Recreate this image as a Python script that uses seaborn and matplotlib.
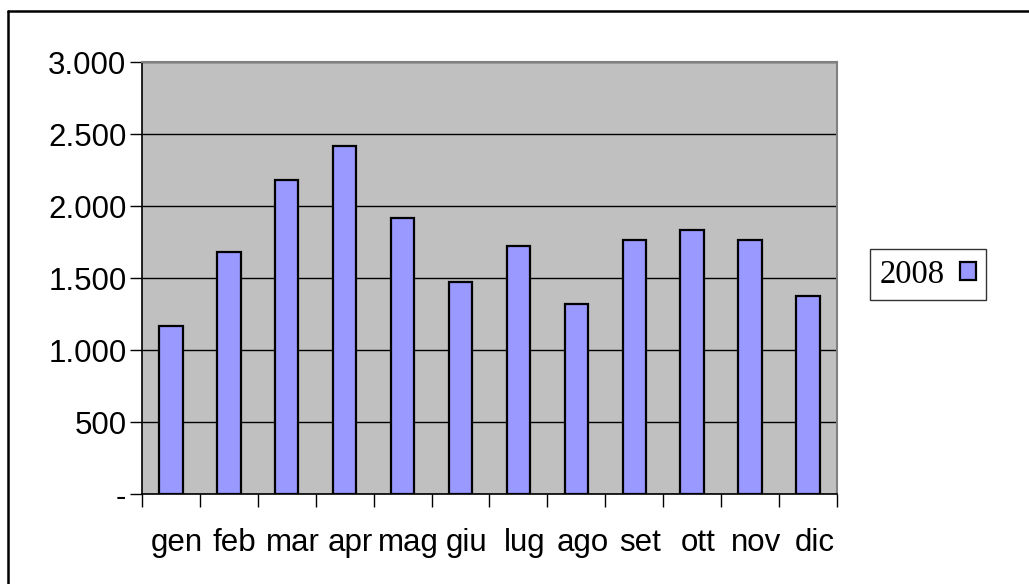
import matplotlib
matplotlib.use("Agg")
import matplotlib.pyplot as plt
from matplotlib.lines import Line2D
from matplotlib.ticker import FixedLocator, FuncFormatter
from matplotlib.transforms import ScaledTranslation
import seaborn as sns
import pandas as pd

# Monthly totals for 2008
months = ["gen", "feb", "mar", "apr", "mag", "giu",
          "lug", "ago", "set", "ott", "nov", "dic"]
values_2008 = [1169, 1680, 2183, 2419, 1917, 1472,
               1727, 1322, 1766, 1835, 1766, 1379]
series_name = "2008"
y_ticks = [0, 500, 1000, 1500, 2000, 2500, 3000]

sns.set_theme(style="white")
plt.rcParams["font.family"] = ["Liberation Sans", "DejaVu Sans"]
plt.rcParams["text.color"] = "black"
plt.rcParams["xtick.color"] = "black"
plt.rcParams["ytick.color"] = "black"
plt.rcParams["xtick.labelcolor"] = "black"
plt.rcParams["ytick.labelcolor"] = "black"

df = pd.DataFrame({"mese": months, "valore": values_2008})

fig = plt.figure(figsize=(10.29, 5.84), dpi=100)
fig.patch.set_facecolor("white")
ax = fig.add_axes([0.1377, 0.1536, 0.676, 0.7397])
ax.set_facecolor("#C0C0C0")

sns.barplot(data=df, x="mese", y="valore", color="#9999FF", saturation=1,
            width=0.41, edgecolor="black", linewidth=1.6, ax=ax,
            label=series_name, zorder=3)

ax.set_xlim(-0.5, len(months) - 0.5)
ax.set_ylim(0, 3000)
ax.set_xlabel("")
ax.set_ylabel("")

# horizontal gridlines
ax.yaxis.set_major_locator(FixedLocator(y_ticks))
ax.grid(axis="y", color="black", linewidth=1.0, zorder=1)
ax.grid(axis="x", visible=False)
ax.set_axisbelow(True)


def thousands(v, pos):
    if v == 0:
        return "-"
    return f"{int(v):,}".replace(",", ".")


ax.yaxis.set_major_formatter(FuncFormatter(thousands))
ax.tick_params(axis="y", which="major", direction="out", length=9, width=1.0,
               color="black", labelcolor="black", labelsize=22.5, pad=2,
               left=True)

# category labels at centres, tick marks at category boundaries
ax.set_xticks(range(len(months)))
ax.set_xticklabels(months)
ax.set_xticks([i - 0.5 for i in range(len(months) + 1)], minor=True)
ax.tick_params(axis="x", which="major", length=0, labelsize=22.5, pad=24,
               labelcolor="black")
ax.tick_params(axis="x", which="minor", direction="out", length=9, width=1.0,
               color="black", bottom=True)
shift = ScaledTranslation(6 / 100, 0, fig.dpi_scale_trans)
for lbl in ax.get_xticklabels():
    lbl.set_transform(lbl.get_transform() + shift)

for side in ["left", "bottom"]:
    ax.spines[side].set_color("black")
    ax.spines[side].set_linewidth(1.2)
for side in ["top", "right"]:
    ax.spines[side].set_color("#808080")
    ax.spines[side].set_linewidth(1.5)
    ax.spines[side].set_visible(True)

# legend box on the right
handles, labels = ax.get_legend_handles_labels()
leg = fig.legend(handles, labels, loc="center",
                 bbox_to_anchor=(928 / 1029, 1 - 274.5 / 584),
                 markerfirst=False, fancybox=False, frameon=True,
                 edgecolor="black", borderpad=0.3, handletextpad=0.45,
                 handlelength=0.5, handleheight=0.5,
                 prop={"family": "Liberation Serif", "size": 23.5})
leg.get_frame().set_linewidth(1.0)
for t in leg.get_texts():
    t.set_color("black")
if ax.get_legend() is not None:
    ax.get_legend().remove()

# outer frame lines (top and left)
fig.add_artist(Line2D([8 / 1029, 1.0], [1 - 10.5 / 584, 1 - 10.5 / 584],
                      transform=fig.transFigure, color="black", linewidth=1.8))
fig.add_artist(Line2D([8 / 1029, 8 / 1029], [0.0, 1 - 10.5 / 584],
                      transform=fig.transFigure, color="black", linewidth=1.8))

fig.savefig("out.png", dpi=100, facecolor="white")
